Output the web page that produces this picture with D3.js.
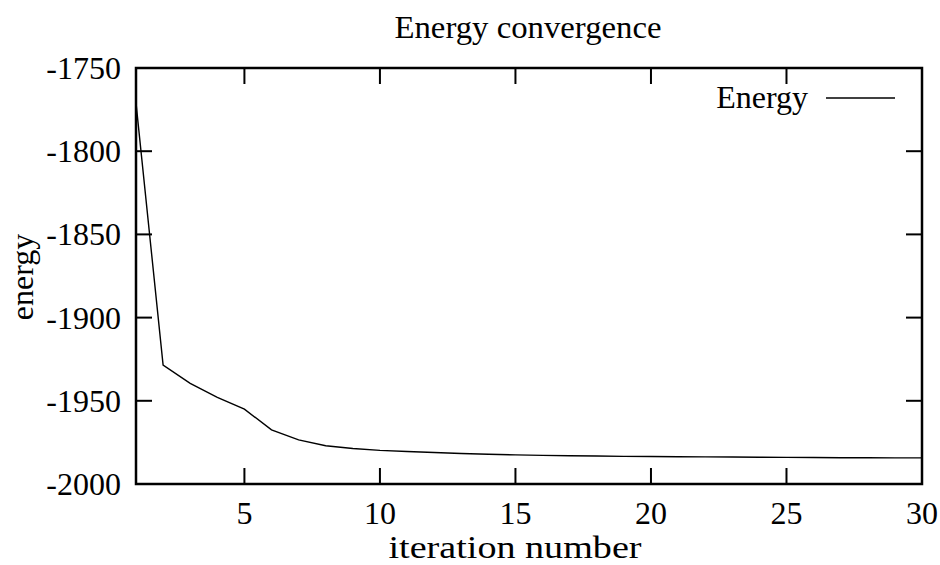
<!DOCTYPE html>
<html>
<head>
<meta charset="utf-8">
<script src="https://cdn.jsdelivr.net/npm/d3@7"></script>
<style>
  html, body { margin: 0; padding: 0; background: #fff; }
  svg text { font-family: "Liberation Serif", "DejaVu Serif", serif; fill: #000; }
</style>
</head>
<body>
<svg id="chart" width="940" height="565"></svg>
<script>
const iterations = [1,2,3,4,5,6,7,8,9,10,11,12,13,14,15,16,17,18,19,20,21,22,23,24,25,26,27,28,29,30];
const energy = [-1771, -1928.5, -1939.5, -1948, -1955, -1967.5, -1973.5, -1977, -1978.7, -1979.8,
                -1980.5, -1981.1, -1981.7, -1982.1, -1982.5, -1982.8, -1983.0, -1983.2, -1983.4, -1983.5,
                -1983.6, -1983.7, -1983.8, -1983.9, -1984.0, -1984.1, -1984.2, -1984.2, -1984.3, -1984.3];
const xTicks = [5, 10, 15, 20, 25, 30];
const yTicks = [-2000, -1950, -1900, -1850, -1800, -1750];
const title = "Energy convergence";
const xLabel = "iteration number";
const yLabel = "energy";
const seriesName = "Energy";

const svg = d3.select("#chart");
const L = 136, R = 922, T = 68, B = 484;
const x = d3.scaleLinear().domain([1, 30]).range([L, R]);
const y = d3.scaleLinear().domain([-2000, -1750]).range([B, T]);
const tickLen = 16;
const fs = 32;

// ticks (inward, mirrored)
const g = svg.append("g").attr("stroke", "#000").attr("stroke-width", 2);
xTicks.forEach(v => {
  g.append("line").attr("x1", x(v)).attr("x2", x(v)).attr("y1", B).attr("y2", B - tickLen);
  g.append("line").attr("x1", x(v)).attr("x2", x(v)).attr("y1", T).attr("y2", T + tickLen);
});
yTicks.forEach(v => {
  g.append("line").attr("x1", L).attr("x2", L + tickLen).attr("y1", y(v)).attr("y2", y(v));
  g.append("line").attr("x1", R).attr("x2", R - tickLen).attr("y1", y(v)).attr("y2", y(v));
});

// data line
const line = d3.line().x((d, i) => x(iterations[i])).y(d => y(d));
svg.append("path").datum(energy)
  .attr("d", line)
  .attr("fill", "none").attr("stroke", "#000").attr("stroke-width", 1.4);

// frame
svg.append("rect").attr("x", L).attr("y", T).attr("width", R - L).attr("height", B - T)
  .attr("fill", "none").attr("stroke", "#000").attr("stroke-width", 2.5);

// tick labels
svg.selectAll(".xt").data(xTicks).enter().append("text")
  .attr("x", d => x(d)).attr("y", 524).attr("text-anchor", "middle")
  .attr("font-size", fs).text(d => d);
svg.selectAll(".yt").data(yTicks).enter().append("text")
  .attr("x", 121).attr("y", d => y(d) + 11).attr("text-anchor", "end")
  .attr("font-size", fs).text(d => d);

// titles
svg.append("text").attr("x", 528).attr("y", 38).attr("text-anchor", "middle")
  .attr("font-size", fs).attr("textLength", 267).attr("lengthAdjust", "spacingAndGlyphs").text(title);
svg.append("text").attr("x", 515).attr("y", 558).attr("text-anchor", "middle")
  .attr("font-size", fs).attr("textLength", 253).attr("lengthAdjust", "spacingAndGlyphs").text(xLabel);
svg.append("text").attr("transform", "translate(33,277) rotate(-90)")
  .attr("text-anchor", "middle").attr("font-size", fs).text(yLabel);

// legend
svg.append("text").attr("x", 808).attr("y", 108).attr("text-anchor", "end")
  .attr("font-size", fs).text(seriesName);
svg.append("line").attr("x1", 826).attr("x2", 895).attr("y1", 98).attr("y2", 98)
  .attr("stroke", "#000").attr("stroke-width", 1.4);
</script>
</body>
</html>
